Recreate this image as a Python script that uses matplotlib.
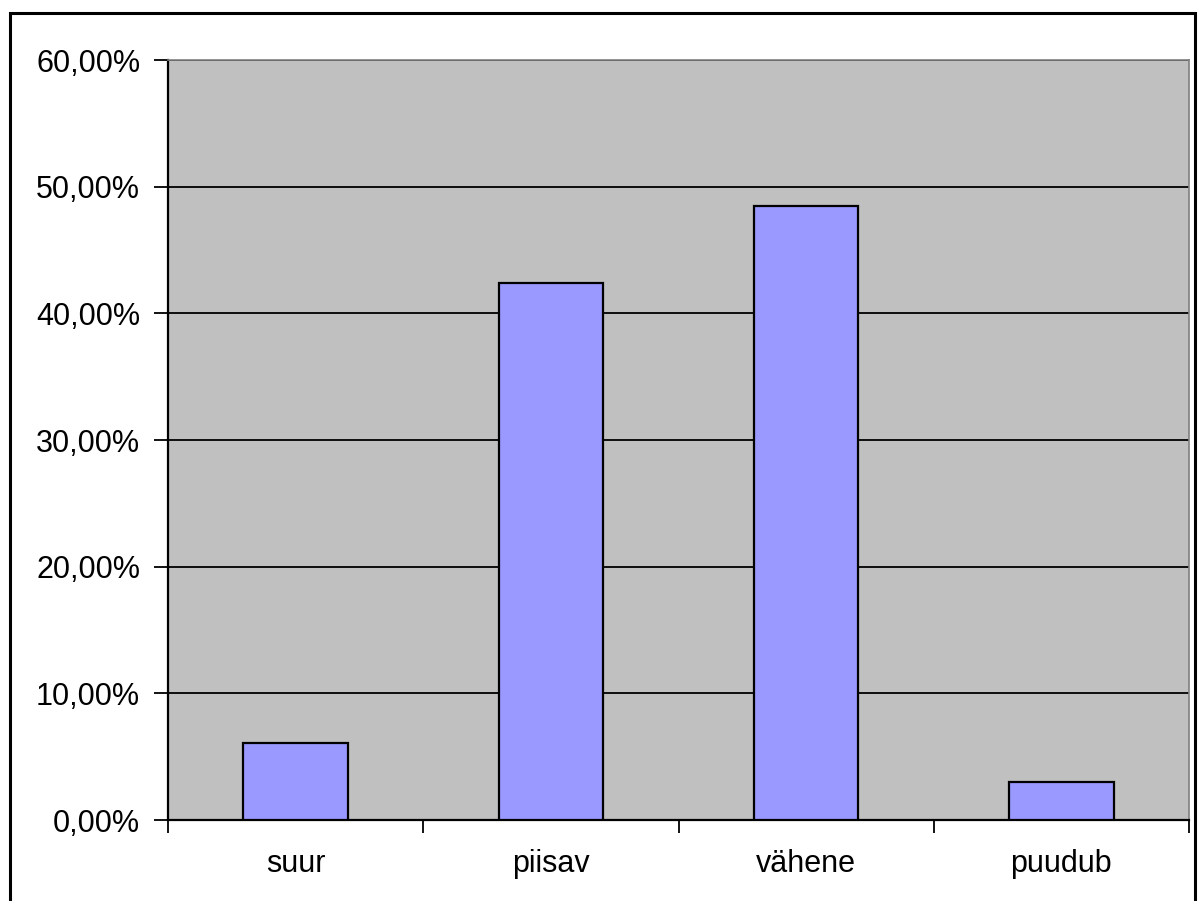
import matplotlib
matplotlib.use("Agg")
import matplotlib.pyplot as plt
from matplotlib.patches import Rectangle
from matplotlib.ticker import FuncFormatter, FixedLocator

categories = ["suur", "piisav", "vähene", "puudub"]
values = [6.06, 42.42, 48.48, 3.03]
yticks = [0, 10, 20, 30, 40, 50, 60]

plt.rcParams['font.family'] = ['Liberation Sans', 'DejaVu Sans']

fig = plt.figure(figsize=(11.98, 9.01), dpi=100)
W, H = 1198, 901
ax = fig.add_axes([168 / W, 1 - 820 / H, (1189 - 168) / W, (820 - 60) / H])

# outer border of the chart area
fig.patches.append(Rectangle((9.5 / W, -0.01), (1195 - 9.5) / W, 1 - 13 / H + 0.01,
                             transform=fig.transFigure, fill=False,
                             edgecolor='black', linewidth=2.2))

ax.set_facecolor('#C0C0C0')
x = list(range(len(categories)))
ax.bar(x, values, width=0.41, color='#9999FF', edgecolor='black', linewidth=1.6, zorder=3)
ax.set_xlim(-0.5, len(categories) - 0.5)
ax.set_ylim(0, 60)
ax.set_yticks(yticks)
ax.yaxis.set_major_formatter(FuncFormatter(lambda v, p: f"{v:.2f}%".replace('.', ',')))
ax.grid(axis='y', color='black', linewidth=1.3, zorder=1)
ax.set_axisbelow(True)

ax.set_xticks(x)
ax.set_xticklabels(categories)
ax.tick_params(axis='x', length=0, pad=21, labelsize=22)
ax.xaxis.set_minor_locator(FixedLocator([i - 0.5 for i in range(len(categories) + 1)]))
ax.tick_params(axis='x', which='minor', length=9, width=1.3, direction='out', color='black')
ax.tick_params(axis='y', length=10, width=1.3, direction='out', pad=10, labelsize=22)

for s in ['left', 'bottom']:
    ax.spines[s].set_color('black')
    ax.spines[s].set_linewidth(1.6)
for s in ['top', 'right']:
    ax.spines[s].set_color('#808080')
    ax.spines[s].set_linewidth(1.2)

fig.savefig('out.png', dpi=100)
